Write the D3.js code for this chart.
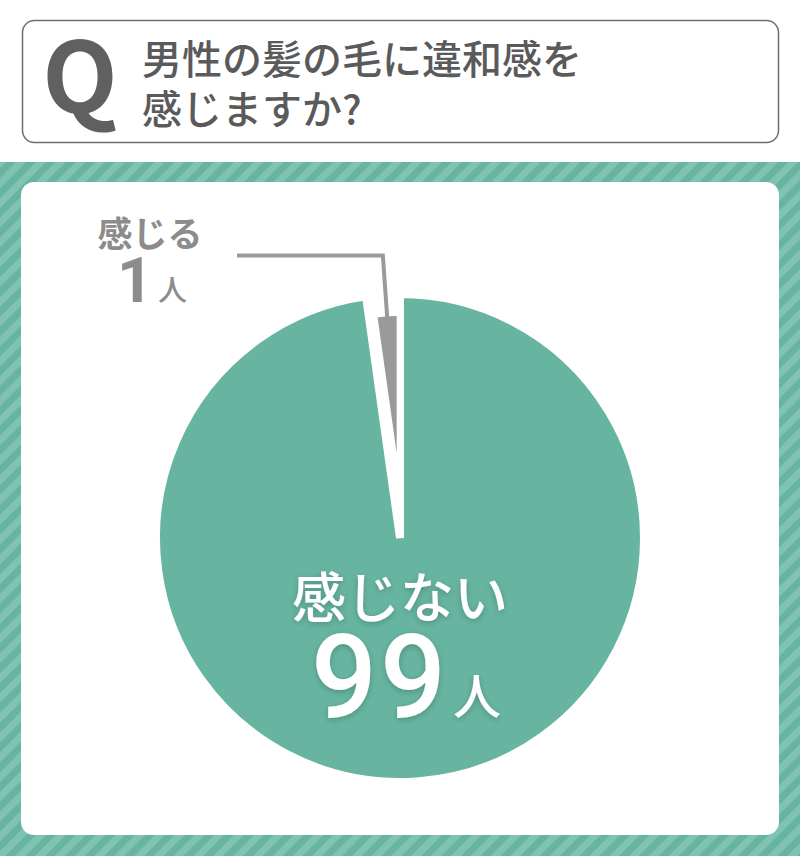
<!DOCTYPE html>
<html>
<head>
<meta charset="utf-8">
<title>男性の髪の毛に違和感を感じますか?</title>
<script src="https://cdn.jsdelivr.net/npm/d3@7"></script>
<style>
  html, body { margin: 0; padding: 0; background: #fff; }
  svg { display: block; }
  text { font-family: "Noto Sans CJK JP", "Noto Sans", sans-serif; }
  .num { font-family: Roboto, "Liberation Sans", sans-serif; }
</style>
</head>
<body>
<div id="chart"></div>
<script>
// data
var questionLines = ["男性の髪の毛に違和感を", "感じますか?"];
var answers = ["感じない", "感じる"];
var counts = [99, 1];
var unit = "人";

var width = 800, height = 856;
var green = "#67b5a1", stripeLight = "#80c3b2", gray = "#9a9a9a";

var svg = d3.select("#chart").append("svg")
  .attr("width", width)
  .attr("height", height);

var defs = svg.append("defs");

// diagonal stripes for the frame
var pat = defs.append("pattern")
  .attr("id", "stripes")
  .attr("patternUnits", "userSpaceOnUse")
  .attr("width", 14).attr("height", 14)
  .attr("patternTransform", "rotate(45)");
pat.append("rect").attr("width", 14).attr("height", 14).attr("fill", green);
pat.append("rect").attr("width", 7).attr("height", 14).attr("fill", stripeLight);

var shadow = defs.append("filter").attr("id", "soft")
  .attr("x", "-20%").attr("y", "-20%").attr("width", "140%").attr("height", "140%");
shadow.append("feDropShadow")
  .attr("dx", 0).attr("dy", 2).attr("stdDeviation", 3)
  .attr("flood-color", "#000").attr("flood-opacity", 0.22);

// question box
svg.append("rect")
  .attr("x", 22.5).attr("y", 20.5)
  .attr("width", 756).attr("height", 122)
  .attr("rx", 12)
  .attr("fill", "#fff")
  .attr("stroke", "#6e6e6e")
  .attr("stroke-width", 1.5);

svg.append("text")
  .attr("x", 80).attr("y", 113)
  .attr("text-anchor", "middle")
  .attr("font-size", 98)
  .attr("font-weight", 700)
  .attr("fill", "#606060")
  .text("Q");

svg.append("g").selectAll("text").data(questionLines).enter().append("text")
  .attr("x", 142)
  .attr("y", function(d, i) { return 57 + i * 50; })
  .attr("dominant-baseline", "central")
  .attr("font-size", 40)
  .attr("font-weight", 500)
  .attr("fill", "#5a5a5a")
  .text(function(d) { return d; });

// striped frame + white panel
svg.append("rect")
  .attr("x", 0).attr("y", 162)
  .attr("width", width).attr("height", height - 162)
  .attr("fill", "url(#stripes)");

svg.append("rect")
  .attr("x", 21).attr("y", 182)
  .attr("width", 758).attr("height", 653)
  .attr("rx", 13)
  .attr("fill", "#fff");

// pie
var cx = 400, cy = 538, radius = 244;
var total = d3.sum(counts);
var minAngle = 8 * Math.PI / 180;   // small slice drawn at least this wide
var smallAngle = Math.max(counts[1] / total * 2 * Math.PI, minAngle);

var pie = d3.pie().sort(null).value(function(d) { return d; })
  .startAngle(0).endAngle(2 * Math.PI);
var slices = pie(counts);
// widen the small slice for visibility
slices[0].endAngle = 2 * Math.PI - smallAngle;
slices[1].startAngle = -smallAngle;
slices[1].endAngle = 0;

var g = svg.append("g").attr("transform", "translate(" + cx + "," + cy + ")");

var bigArc = d3.arc().innerRadius(0).outerRadius(radius);
g.append("path")
  .attr("d", bigArc(slices[0]))
  .attr("fill", green)
  .attr("stroke", "#fff")
  .attr("stroke-width", 8)
  .attr("stroke-linejoin", "bevel");

// small slice, pulled out along its edge
var explode = d3.pointRadial(-smallAngle * 0.28, 85);
var smallR = 137;
var smallArc = d3.arc().innerRadius(0).outerRadius(smallR);
var gs = g.append("g").attr("transform", "translate(" + explode[0] + "," + explode[1] + ")");
gs.append("path")
  .attr("d", smallArc(slices[1]))
  .attr("fill", gray);

// leader line
var mid = (slices[1].startAngle + slices[1].endAngle) / 2;
var p0 = d3.pointRadial(mid, smallR - 1);
var p1 = d3.pointRadial(mid, smallR + 61);
var labelX = 150;
gs.append("path")
  .attr("d", d3.line()([p0, p1, [labelX + 87 - cx - explode[0], p1[1]]]))
  .attr("fill", "none")
  .attr("stroke", gray)
  .attr("stroke-width", 4)
  .attr("stroke-linejoin", "miter");

// small slice label
svg.append("text")
  .attr("x", labelX).attr("y", 231)
  .attr("text-anchor", "middle")
  .attr("dominant-baseline", "central")
  .attr("font-size", 35)
  .attr("font-weight", 700)
  .attr("fill", "#8c8c8c")
  .text(answers[1]);

var t1 = svg.append("text")
  .attr("x", labelX + 2).attr("y", 302)
  .attr("text-anchor", "middle")
  .attr("fill", "#8c8c8c");
t1.append("tspan").attr("class", "num").attr("font-size", 63).attr("font-weight", 700).text(counts[1]);
t1.append("tspan").attr("font-size", 29).attr("dx", 5).attr("dy", -1).attr("font-weight", 500).text(unit);

// big slice label
svg.append("text")
  .attr("x", cx).attr("y", 594)
  .attr("text-anchor", "middle")
  .attr("dominant-baseline", "central")
  .attr("font-size", 54)
  .attr("font-weight", 500)
  .attr("fill", "#fff")
  .attr("filter", "url(#soft)")
  .text(answers[0]);

var t0 = svg.append("text")
  .attr("x", cx + 6).attr("y", 717)
  .attr("text-anchor", "middle")
  .attr("fill", "#fff")
  .attr("filter", "url(#soft)");
t0.append("tspan").attr("class", "num").attr("font-size", 116).attr("font-weight", 500).attr("letter-spacing", 3).text(counts[0]);
t0.append("tspan").attr("font-size", 48).attr("font-weight", 500).attr("dx", 4).attr("dy", -3).text(unit);
</script>
</body>
</html>
